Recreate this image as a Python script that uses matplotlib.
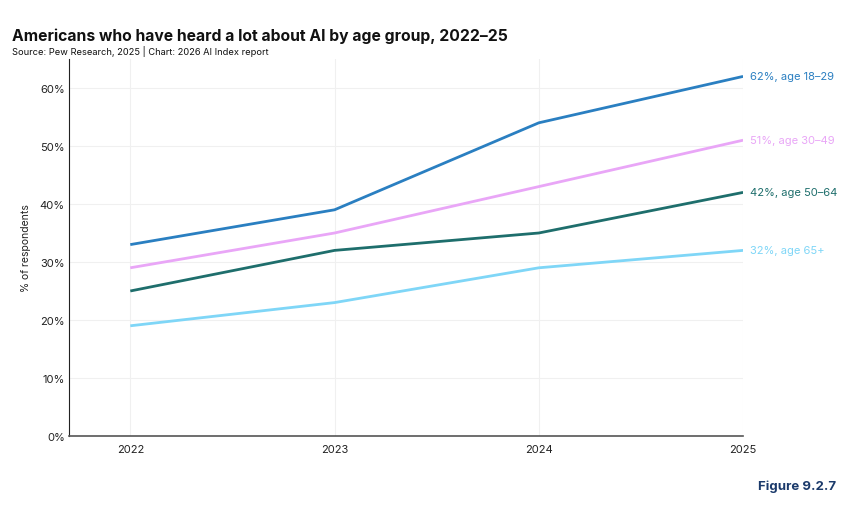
import matplotlib.pyplot as plt
from matplotlib.ticker import FuncFormatter

plt.rcParams['font.family'] = ['Inter', 'DejaVu Sans']

years = [2022, 2023, 2024, 2025]
age_18_29 = [33, 39, 54, 62]
age_30_49 = [29, 35, 43, 51]
age_50_64 = [25, 32, 35, 42]
age_65_plus = [19, 23, 29, 32]

series = [
    ("age 18\u201329", age_18_29, "#2a7fc1"),
    ("age 30\u201349", age_30_49, "#e9a6f7"),
    ("age 50\u201364", age_50_64, "#1e6e6c"),
    ("age 65+", age_65_plus, "#7fd6f7"),
]

fig = plt.figure(figsize=(8.5, 5.06), dpi=100)
ax = fig.add_axes([0.0812, 0.1364, 0.793, 0.745])

for name, vals, color in series:
    ax.plot(years, vals, color=color, linewidth=2.0, solid_capstyle='butt')
    ax.annotate(f"{vals[-1]}%, {name}", xy=(years[-1], vals[-1]),
                xytext=(5, 0), textcoords='offset points',
                va='center', ha='left', fontsize=8, color=color,
                annotation_clip=False)

ax.set_xlim(2021.7, 2025)
ax.set_ylim(0, 65)
ax.set_xticks(years)
ax.set_yticks(range(0, 61, 10))
ax.yaxis.set_major_formatter(FuncFormatter(lambda v, p: f"{int(v)}%"))
ax.tick_params(axis='both', length=0, labelsize=8, colors='#222222')
ax.tick_params(axis='x', pad=6)
ax.tick_params(axis='y', pad=3)
ax.grid(True, color='#f0f0f0', linewidth=0.8)
ax.set_axisbelow(True)
for s in ['top', 'right']:
    ax.spines[s].set_visible(False)
ax.spines['left'].set_color('#222222')
ax.spines['bottom'].set_color('#555555')
ax.spines['bottom'].set_linewidth(1.2)
ax.set_ylabel('% of respondents', fontsize=7.5, color='#222222', labelpad=6)

fig.text(0.014, 0.919, "Americans who have heard a lot about AI by age group, 2022\u201325",
         fontsize=11.3, fontweight='bold', color='#111111', va='baseline')
fig.text(0.014, 0.892, "Source: Pew Research, 2025 | Chart: 2026 AI Index report",
         fontsize=6.7, color='#111111', va='baseline')
fig.text(0.984, 0.032, "Figure 9.2.7", fontsize=9.5, fontweight='bold',
         color='#1b3a6b', ha='right', va='baseline')

fig.savefig('out.png', dpi=100)
